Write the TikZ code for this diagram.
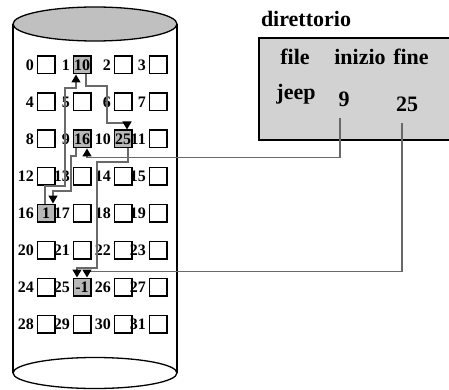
\documentclass[tikz,border=0pt]{standalone}
\usepackage{fontspec}
\setmainfont{Liberation Serif}
\usetikzlibrary{positioning,arrows.meta}
\definecolor{DiskGray}{RGB}{192,192,192}
\definecolor{CellGray}{RGB}{184,184,184}
\definecolor{DirGray}{RGB}{210,210,210}
\definecolor{LinkGray}{RGB}{105,105,105}

\begin{document}
\begin{tikzpicture}[x=1pt, y=-1pt,
    cell/.style={rectangle, draw=black, line width=1.5pt, fill=white, minimum size=17.5pt, inner sep=0pt, font=\fontsize{16}{16}\selectfont\bfseries},
    used/.style={cell, fill=CellGray},
    num/.style={inner sep=0pt, font=\fontsize{16}{16}\selectfont\bfseries},
    dirbox/.style={rectangle, draw=black, line width=1.6pt, fill=DirGray, anchor=north west, minimum width=196pt, minimum height=102pt},
    dirtext/.style={inner sep=0pt, anchor=base, font=\fontsize{22}{22}\selectfont\bfseries},
    link/.style={-{Triangle[width=9pt,length=8pt,color=black]}, line width=1.5pt, LinkGray}
  ]
  \useasboundingbox (0,0) rectangle (449,390);

  % disco
  \draw[line width=1.3pt] (95,373) ellipse [x radius=82, y radius=15.5];
  \draw[line width=1.3pt] (13,24) -- (13,373);
  \draw[line width=1.3pt] (177,24) -- (177,373);
  \draw[line width=1.3pt, fill=DiskGray] (95,24) ellipse [x radius=82, y radius=17];

  % blocchi
  \foreach \n in {0,...,31} {
    \pgfmathtruncatemacro{\col}{mod(\n,4)}
    \pgfmathtruncatemacro{\row}{div(\n,4)}
    \pgfmathsetmacro{\cx}{{46,82,123,158}[\col]}
    \node[cell] (c\n) at (\cx, 65+37*\row) {};
    \node[num, left=2.5pt of c\n] (l\n) {\n};
  }
  \foreach \n/\v in {1/10, 9/16, 10/25, 16/1, 25/-1}
    \node[used] (v\n) at (c\n) {\v};

  % direttorio
  \node[dirtext] (dirtitle) at (306,27) {direttorio};
  \node[dirbox] (dir) at (258,37) {};
  \node[dirtext] (hfile) at (295,65) {file};
  \node[dirtext] (hinizio) at (360,65) {inizio};
  \node[dirtext] (hfine) at (411,65) {fine};
  \node[dirtext] (jeep) at (296,100) {jeep};
  \node[dirtext] (d9) at (344,107) {9};
  \node[dirtext] (d25) at (407,112) {25};

  % catena dei blocchi
  \draw[link] ([xshift=-6pt]v9.south) -- ++(0,7.5) -- ++(-5,0) -- ++(0,35) -| ([xshift=7pt]v16.north);
  \draw[link] ([xshift=-1pt]v16.north) -- ++(0,-17.5) -- ++(20,0) -- ++(0,-98) -| ([xshift=-6pt]v1.south);
  \draw[link] ([xshift=4pt]v1.south) -- ++(0,11.5) -- ++(21,0) -- ++(0,37) -| ([xshift=4pt]v10.north);
  \draw[link] ([xshift=5pt]v10.south) -- ++(0,13.5) -- ++(-31,0) -- ++(0,106) -| ([xshift=-5pt]v25.north);

  % inizio e fine
  \draw[link] ([xshift=-4pt,yshift=-11pt]d9.south) -- ++(0,39) -| ([xshift=5pt]v9.south);
  \draw[link] ([xshift=-5pt,yshift=-11pt]d25.south) -- ++(0,148) -| ([xshift=5pt]v25.north);
\end{tikzpicture}
\end{document}
